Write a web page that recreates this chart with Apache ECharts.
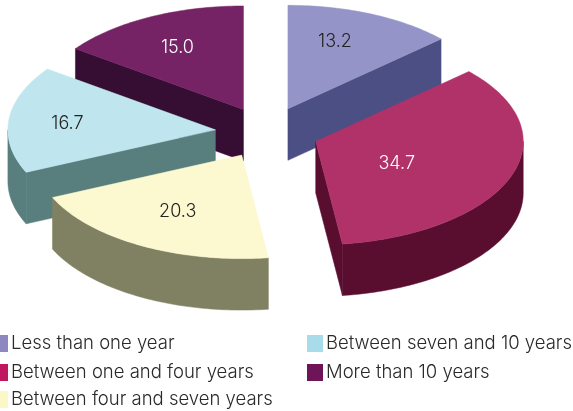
<!DOCTYPE html>
<html><head><meta charset="utf-8">
<style>html,body{margin:0;padding:0;background:#fff}#c{width:573px;height:411px}</style>
<script src="https://cdn.jsdelivr.net/npm/echarts@6/dist/echarts.min.js"></script>
</head><body><div id="c"></div>
<script>
const categories = ['Less than one year','Between one and four years','Between four and seven years','Between seven and 10 years','More than 10 years'];
const values = [13.2,34.7,20.3,16.7,15.0];
const valueLabels = ['13.2','34.7','20.3','16.7','15.0'];

const topColors = ['#9594c8','#b03268','#fcf8d0','#bfe6ef','#752364'];
const sideColors = ['#4b4f84','#590e30','#808062','#587e7e','#360d33'];
const legendColors = ['#8e87c0','#c0185e','#fbf8c8','#a9dcea','#6e1558'];
const labelColors = ['#222222','#ffffff','#222222','#222222','#ffffff'];
const labelOffsets = [[47,-67],[81,22],[-64,57],[-148,-6],[-66,-62]];
const CX=267, CY=132.5, RX=207.5, RY=103.5, DEPTH=51.5, EXPLODE=0.25;
const FONT='Inter';

const total = values.reduce((a,b)=>a+b,0);
let acc=0;
const slices = values.map((v,i)=>{
  const a0=acc/total*2*Math.PI; acc+=v; const a1=acc/total*2*Math.PI; const m=(a0+a1)/2;
  return {i,a0,a1,ax:CX+EXPLODE*RX*Math.sin(m),ay:CY-EXPLODE*RY*Math.cos(m)};
});
function rim(s,a){return [s.ax+RX*Math.sin(a),s.ay-RY*Math.cos(a)];}
function arc(s,a,b){const n=Math.max(2,Math.ceil(Math.abs(b-a)/0.02));const p=[];for(let k=0;k<=n;k++)p.push(rim(s,a+(b-a)*k/n));return p;}
function down(p){return [p[0],p[1]+DEPTH];}
function poly(points,fill,extra){return Object.assign({type:'polygon',shape:{points},style:{fill,stroke:fill,lineWidth:0.5}},extra||{});}
function drawSlice(s){
  const side=sideColors[s.i], children=[], apex=[s.ax,s.ay];
  if(Math.sin(s.a0)<-1e-6){const r=rim(s,s.a0);children.push(poly([apex,r,down(r),down(apex)],side));}
  if(Math.sin(s.a1)>1e-6){const r=rim(s,s.a1);children.push(poly([apex,r,down(r),down(apex)],side));}
  const lo=Math.max(s.a0,Math.PI/2),hi=Math.min(s.a1,Math.PI*1.5);
  if(hi>lo){const e=arc(s,lo,hi);children.push(poly(e.concat(e.map(down).reverse()),side));}
  children.push(poly([apex].concat(arc(s,s.a0,s.a1)),topColors[s.i]));
  children.push({type:'text',x:s.ax+labelOffsets[s.i][0],y:s.ay+labelOffsets[s.i][1],
    style:{text:valueLabels[s.i],fill:labelColors[s.i],font:'300 18px '+FONT,textAlign:'center',textVerticalAlign:'middle'}});
  return {type:'group',children};
}
const drawOrder = slices.slice().sort((a,b)=>a.ay-b.ay);
const series = drawOrder.map(s=>({
  type:'custom',name:categories[s.i],coordinateSystem:'none',silent:true,animation:false,
  itemStyle:{color:legendColors[s.i]},data:[values[s.i]],renderItem:()=>drawSlice(s)
}));
const legendBase={orient:'vertical',icon:'rect',itemWidth:16,itemHeight:17,itemGap:10,padding:0,selectedMode:false,
  textStyle:{fontFamily:FONT,fontWeight:300,fontSize:18.5,lineHeight:17,color:'#2a2a2a',padding:[0,0,0,-2]}};
const chart=echarts.init(document.getElementById('c'),null,{renderer:'canvas'});
chart.setOption({
  animation:false,backgroundColor:'#fff',
  legend:[
    Object.assign({},legendBase,{left:-8,top:334,data:categories.slice(0,2)}),
    Object.assign({},legendBase,{left:-8,top:390,data:categories.slice(2,3)}),
    Object.assign({},legendBase,{left:307,top:334,data:categories.slice(3)})
  ],
  series
});
</script></body></html>
